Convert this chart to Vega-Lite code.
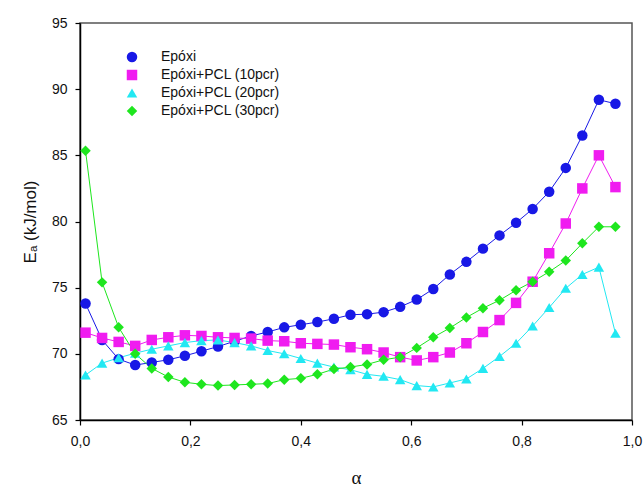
{
  "$schema": "https://vega.github.io/schema/vega-lite/v6.json",
  "width": 552,
  "height": 397,
  "autosize": {"type": "none"},
  "padding": {"left": 80, "top": 23, "right": 11, "bottom": 67},
  "background": "white",
  "config": {
    "view": {"stroke": "#555555", "strokeWidth": 1.5},
    "axis": {
      "grid": false,
      "domainColor": "black",
      "domainWidth": 1.5,
      "tickColor": "black",
      "tickWidth": 1.2,
      "tickSize": 5,
      "labelFont": "Liberation Sans",
      "labelFontSize": 14,
      "labelColor": "#111111",
      "titleColor": "#111111",
      "titleFontWeight": "normal"
    },
    "legend": {
      "labelFont": "Liberation Sans",
      "labelFontSize": 14,
      "labelFontWeight": "normal",
      "labelColor": "#111111"
    }
  },
  "data": {
    "values": [
      {"alpha": 0.01, "serie": "Epóxi", "Ea": 73.8},
      {"alpha": 0.04, "serie": "Epóxi", "Ea": 71.05},
      {"alpha": 0.07, "serie": "Epóxi", "Ea": 69.6},
      {"alpha": 0.10, "serie": "Epóxi", "Ea": 69.15},
      {"alpha": 0.13, "serie": "Epóxi", "Ea": 69.35},
      {"alpha": 0.16, "serie": "Epóxi", "Ea": 69.55},
      {"alpha": 0.19, "serie": "Epóxi", "Ea": 69.85},
      {"alpha": 0.22, "serie": "Epóxi", "Ea": 70.2},
      {"alpha": 0.25, "serie": "Epóxi", "Ea": 70.55},
      {"alpha": 0.28, "serie": "Epóxi", "Ea": 70.95},
      {"alpha": 0.31, "serie": "Epóxi", "Ea": 71.35},
      {"alpha": 0.34, "serie": "Epóxi", "Ea": 71.65},
      {"alpha": 0.37, "serie": "Epóxi", "Ea": 72.0},
      {"alpha": 0.40, "serie": "Epóxi", "Ea": 72.2},
      {"alpha": 0.43, "serie": "Epóxi", "Ea": 72.4},
      {"alpha": 0.46, "serie": "Epóxi", "Ea": 72.65},
      {"alpha": 0.49, "serie": "Epóxi", "Ea": 72.95},
      {"alpha": 0.52, "serie": "Epóxi", "Ea": 73.0},
      {"alpha": 0.55, "serie": "Epóxi", "Ea": 73.15},
      {"alpha": 0.58, "serie": "Epóxi", "Ea": 73.55},
      {"alpha": 0.61, "serie": "Epóxi", "Ea": 74.1},
      {"alpha": 0.64, "serie": "Epóxi", "Ea": 74.9},
      {"alpha": 0.67, "serie": "Epóxi", "Ea": 76.0},
      {"alpha": 0.70, "serie": "Epóxi", "Ea": 76.95},
      {"alpha": 0.73, "serie": "Epóxi", "Ea": 77.95},
      {"alpha": 0.76, "serie": "Epóxi", "Ea": 78.95},
      {"alpha": 0.79, "serie": "Epóxi", "Ea": 79.9},
      {"alpha": 0.82, "serie": "Epóxi", "Ea": 80.95},
      {"alpha": 0.85, "serie": "Epóxi", "Ea": 82.25},
      {"alpha": 0.88, "serie": "Epóxi", "Ea": 84.05},
      {"alpha": 0.91, "serie": "Epóxi", "Ea": 86.5},
      {"alpha": 0.94, "serie": "Epóxi", "Ea": 89.2},
      {"alpha": 0.97, "serie": "Epóxi", "Ea": 88.9},

      {"alpha": 0.01, "serie": "Epóxi+PCL (10pcr)", "Ea": 71.6},
      {"alpha": 0.04, "serie": "Epóxi+PCL (10pcr)", "Ea": 71.2},
      {"alpha": 0.07, "serie": "Epóxi+PCL (10pcr)", "Ea": 70.9},
      {"alpha": 0.10, "serie": "Epóxi+PCL (10pcr)", "Ea": 70.6},
      {"alpha": 0.13, "serie": "Epóxi+PCL (10pcr)", "Ea": 71.05},
      {"alpha": 0.16, "serie": "Epóxi+PCL (10pcr)", "Ea": 71.25},
      {"alpha": 0.19, "serie": "Epóxi+PCL (10pcr)", "Ea": 71.4},
      {"alpha": 0.22, "serie": "Epóxi+PCL (10pcr)", "Ea": 71.35},
      {"alpha": 0.25, "serie": "Epóxi+PCL (10pcr)", "Ea": 71.25},
      {"alpha": 0.28, "serie": "Epóxi+PCL (10pcr)", "Ea": 71.2},
      {"alpha": 0.31, "serie": "Epóxi+PCL (10pcr)", "Ea": 71.15},
      {"alpha": 0.34, "serie": "Epóxi+PCL (10pcr)", "Ea": 71.0},
      {"alpha": 0.37, "serie": "Epóxi+PCL (10pcr)", "Ea": 70.95},
      {"alpha": 0.40, "serie": "Epóxi+PCL (10pcr)", "Ea": 70.8},
      {"alpha": 0.43, "serie": "Epóxi+PCL (10pcr)", "Ea": 70.75},
      {"alpha": 0.46, "serie": "Epóxi+PCL (10pcr)", "Ea": 70.7},
      {"alpha": 0.49, "serie": "Epóxi+PCL (10pcr)", "Ea": 70.5},
      {"alpha": 0.52, "serie": "Epóxi+PCL (10pcr)", "Ea": 70.35},
      {"alpha": 0.55, "serie": "Epóxi+PCL (10pcr)", "Ea": 70.1},
      {"alpha": 0.58, "serie": "Epóxi+PCL (10pcr)", "Ea": 69.75},
      {"alpha": 0.61, "serie": "Epóxi+PCL (10pcr)", "Ea": 69.5},
      {"alpha": 0.64, "serie": "Epóxi+PCL (10pcr)", "Ea": 69.75},
      {"alpha": 0.67, "serie": "Epóxi+PCL (10pcr)", "Ea": 70.1},
      {"alpha": 0.70, "serie": "Epóxi+PCL (10pcr)", "Ea": 70.8},
      {"alpha": 0.73, "serie": "Epóxi+PCL (10pcr)", "Ea": 71.65},
      {"alpha": 0.76, "serie": "Epóxi+PCL (10pcr)", "Ea": 72.55},
      {"alpha": 0.79, "serie": "Epóxi+PCL (10pcr)", "Ea": 73.85},
      {"alpha": 0.82, "serie": "Epóxi+PCL (10pcr)", "Ea": 75.45},
      {"alpha": 0.85, "serie": "Epóxi+PCL (10pcr)", "Ea": 77.6},
      {"alpha": 0.88, "serie": "Epóxi+PCL (10pcr)", "Ea": 79.85},
      {"alpha": 0.91, "serie": "Epóxi+PCL (10pcr)", "Ea": 82.5},
      {"alpha": 0.94, "serie": "Epóxi+PCL (10pcr)", "Ea": 85.0},
      {"alpha": 0.97, "serie": "Epóxi+PCL (10pcr)", "Ea": 82.6},

      {"alpha": 0.01, "serie": "Epóxi+PCL (20pcr)", "Ea": 68.4},
      {"alpha": 0.04, "serie": "Epóxi+PCL (20pcr)", "Ea": 69.3},
      {"alpha": 0.07, "serie": "Epóxi+PCL (20pcr)", "Ea": 69.7},
      {"alpha": 0.10, "serie": "Epóxi+PCL (20pcr)", "Ea": 70.05},
      {"alpha": 0.13, "serie": "Epóxi+PCL (20pcr)", "Ea": 70.35},
      {"alpha": 0.16, "serie": "Epóxi+PCL (20pcr)", "Ea": 70.6},
      {"alpha": 0.19, "serie": "Epóxi+PCL (20pcr)", "Ea": 70.85},
      {"alpha": 0.22, "serie": "Epóxi+PCL (20pcr)", "Ea": 71.0},
      {"alpha": 0.25, "serie": "Epóxi+PCL (20pcr)", "Ea": 71.05},
      {"alpha": 0.28, "serie": "Epóxi+PCL (20pcr)", "Ea": 70.85},
      {"alpha": 0.31, "serie": "Epóxi+PCL (20pcr)", "Ea": 70.6},
      {"alpha": 0.34, "serie": "Epóxi+PCL (20pcr)", "Ea": 70.25},
      {"alpha": 0.37, "serie": "Epóxi+PCL (20pcr)", "Ea": 70.0},
      {"alpha": 0.40, "serie": "Epóxi+PCL (20pcr)", "Ea": 69.65},
      {"alpha": 0.43, "serie": "Epóxi+PCL (20pcr)", "Ea": 69.3},
      {"alpha": 0.46, "serie": "Epóxi+PCL (20pcr)", "Ea": 69.0},
      {"alpha": 0.49, "serie": "Epóxi+PCL (20pcr)", "Ea": 68.8},
      {"alpha": 0.52, "serie": "Epóxi+PCL (20pcr)", "Ea": 68.45},
      {"alpha": 0.55, "serie": "Epóxi+PCL (20pcr)", "Ea": 68.3},
      {"alpha": 0.58, "serie": "Epóxi+PCL (20pcr)", "Ea": 68.05},
      {"alpha": 0.61, "serie": "Epóxi+PCL (20pcr)", "Ea": 67.6},
      {"alpha": 0.64, "serie": "Epóxi+PCL (20pcr)", "Ea": 67.5},
      {"alpha": 0.67, "serie": "Epóxi+PCL (20pcr)", "Ea": 67.8},
      {"alpha": 0.70, "serie": "Epóxi+PCL (20pcr)", "Ea": 68.1},
      {"alpha": 0.73, "serie": "Epóxi+PCL (20pcr)", "Ea": 68.9},
      {"alpha": 0.76, "serie": "Epóxi+PCL (20pcr)", "Ea": 69.8},
      {"alpha": 0.79, "serie": "Epóxi+PCL (20pcr)", "Ea": 70.8},
      {"alpha": 0.82, "serie": "Epóxi+PCL (20pcr)", "Ea": 72.1},
      {"alpha": 0.85, "serie": "Epóxi+PCL (20pcr)", "Ea": 73.5},
      {"alpha": 0.88, "serie": "Epóxi+PCL (20pcr)", "Ea": 74.95},
      {"alpha": 0.91, "serie": "Epóxi+PCL (20pcr)", "Ea": 76.0},
      {"alpha": 0.94, "serie": "Epóxi+PCL (20pcr)", "Ea": 76.55},
      {"alpha": 0.97, "serie": "Epóxi+PCL (20pcr)", "Ea": 71.55},

      {"alpha": 0.01, "serie": "Epóxi+PCL (30pcr)", "Ea": 85.35},
      {"alpha": 0.04, "serie": "Epóxi+PCL (30pcr)", "Ea": 75.4},
      {"alpha": 0.07, "serie": "Epóxi+PCL (30pcr)", "Ea": 72.0},
      {"alpha": 0.10, "serie": "Epóxi+PCL (30pcr)", "Ea": 70.0},
      {"alpha": 0.13, "serie": "Epóxi+PCL (30pcr)", "Ea": 68.9},
      {"alpha": 0.16, "serie": "Epóxi+PCL (30pcr)", "Ea": 68.25},
      {"alpha": 0.19, "serie": "Epóxi+PCL (30pcr)", "Ea": 67.85},
      {"alpha": 0.22, "serie": "Epóxi+PCL (30pcr)", "Ea": 67.7},
      {"alpha": 0.25, "serie": "Epóxi+PCL (30pcr)", "Ea": 67.6},
      {"alpha": 0.28, "serie": "Epóxi+PCL (30pcr)", "Ea": 67.65},
      {"alpha": 0.31, "serie": "Epóxi+PCL (30pcr)", "Ea": 67.7},
      {"alpha": 0.34, "serie": "Epóxi+PCL (30pcr)", "Ea": 67.75},
      {"alpha": 0.37, "serie": "Epóxi+PCL (30pcr)", "Ea": 68.05},
      {"alpha": 0.40, "serie": "Epóxi+PCL (30pcr)", "Ea": 68.15},
      {"alpha": 0.43, "serie": "Epóxi+PCL (30pcr)", "Ea": 68.45},
      {"alpha": 0.46, "serie": "Epóxi+PCL (30pcr)", "Ea": 68.85},
      {"alpha": 0.49, "serie": "Epóxi+PCL (30pcr)", "Ea": 69.0},
      {"alpha": 0.52, "serie": "Epóxi+PCL (30pcr)", "Ea": 69.2},
      {"alpha": 0.55, "serie": "Epóxi+PCL (30pcr)", "Ea": 69.55},
      {"alpha": 0.58, "serie": "Epóxi+PCL (30pcr)", "Ea": 69.75},
      {"alpha": 0.61, "serie": "Epóxi+PCL (30pcr)", "Ea": 70.45},
      {"alpha": 0.64, "serie": "Epóxi+PCL (30pcr)", "Ea": 71.25},
      {"alpha": 0.67, "serie": "Epóxi+PCL (30pcr)", "Ea": 71.95},
      {"alpha": 0.70, "serie": "Epóxi+PCL (30pcr)", "Ea": 72.75},
      {"alpha": 0.73, "serie": "Epóxi+PCL (30pcr)", "Ea": 73.45},
      {"alpha": 0.76, "serie": "Epóxi+PCL (30pcr)", "Ea": 74.05},
      {"alpha": 0.79, "serie": "Epóxi+PCL (30pcr)", "Ea": 74.8},
      {"alpha": 0.82, "serie": "Epóxi+PCL (30pcr)", "Ea": 75.45},
      {"alpha": 0.85, "serie": "Epóxi+PCL (30pcr)", "Ea": 76.2},
      {"alpha": 0.88, "serie": "Epóxi+PCL (30pcr)", "Ea": 77.05},
      {"alpha": 0.91, "serie": "Epóxi+PCL (30pcr)", "Ea": 78.35},
      {"alpha": 0.94, "serie": "Epóxi+PCL (30pcr)", "Ea": 79.6},
      {"alpha": 0.97, "serie": "Epóxi+PCL (30pcr)", "Ea": 79.6}
    ]
  },
  "encoding": {
    "x": {
      "field": "alpha",
      "type": "quantitative",
      "scale": {"domain": [0, 1], "nice": false, "zero": false},
      "axis": {
        "title": "α",
        "titleFont": "Liberation Serif",
        "titleFontSize": 19,
        "titlePadding": 20,
        "values": [0, 0.2, 0.4, 0.6, 0.8, 1.0],
        "labelExpr": "replace(format(datum.value, '.1f'), '.', ',')",
        "labelPadding": 9,
        "labelFlush": false
      }
    },
    "y": {
      "field": "Ea",
      "type": "quantitative",
      "scale": {"domain": [65, 95], "nice": false, "zero": false},
      "axis": {
        "title": "Eₐ (kJ/mol)",
        "titleFont": "Liberation Sans",
        "titleFontSize": 17,
        "titlePadding": 12,
        "values": [65, 70, 75, 80, 85, 90, 95],
        "labelPadding": 8,
        "labelFlush": false
      }
    },
    "color": {
      "field": "serie",
      "type": "nominal",
      "scale": {
        "domain": ["Epóxi", "Epóxi+PCL (10pcr)", "Epóxi+PCL (20pcr)", "Epóxi+PCL (30pcr)"],
        "range": ["#1818E6", "#F01CF0", "#22E8F2", "#1EE61E"]
      },
      "legend": {
        "title": null,
        "orient": "none",
        "legendX": 45,
        "legendY": 27,
        "padding": 0,
        "rowPadding": 4,
        "labelOffset": 22,
        "symbolSize": 110,
        "symbolStrokeWidth": 0
      }
    }
  },
  "layer": [
    {
      "mark": {"type": "line", "strokeWidth": 1},
      "encoding": {}
    },
    {
      "mark": {"type": "point", "filled": true, "opacity": 1, "size": 110},
      "encoding": {
        "shape": {
          "field": "serie",
          "type": "nominal",
          "scale": {
            "domain": ["Epóxi", "Epóxi+PCL (10pcr)", "Epóxi+PCL (20pcr)", "Epóxi+PCL (30pcr)"],
            "range": ["circle", "square", "triangle-up", "diamond"]
          },
          "legend": null
        }
      }
    }
  ]
}
